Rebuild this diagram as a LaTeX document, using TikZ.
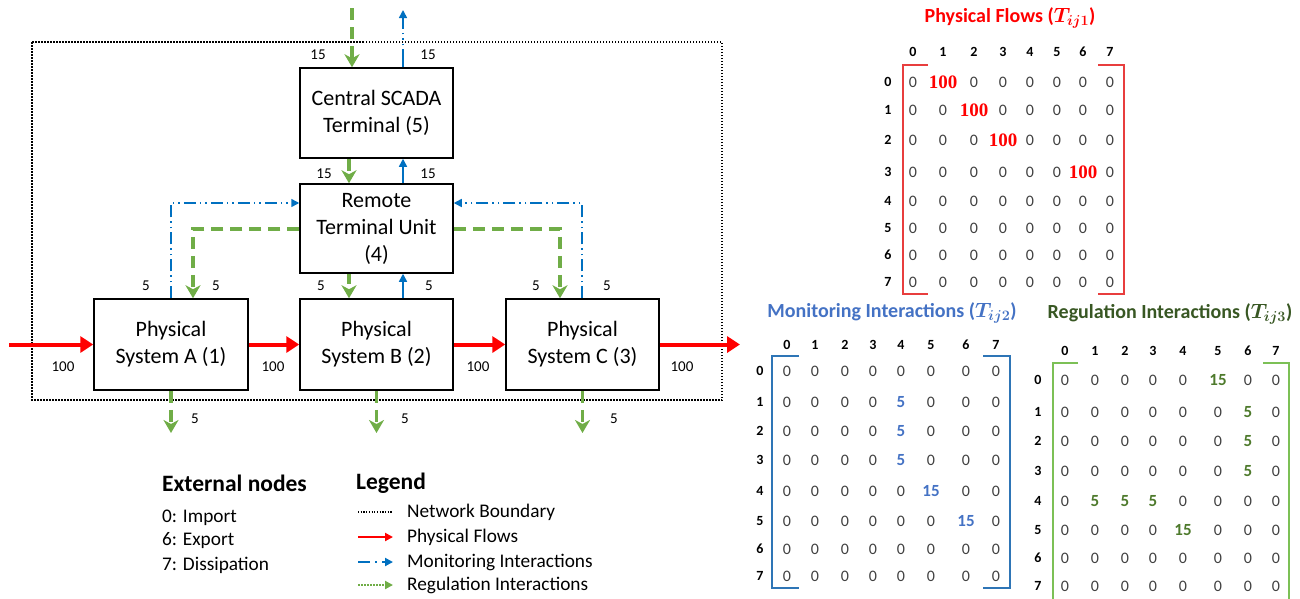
\documentclass[tikz,border=0pt]{standalone}
\usepackage{fontspec}
\setmainfont{Carlito}
\newfontfamily\serifnum{Liberation Serif}
\usetikzlibrary{arrows.meta}
\definecolor{cred}{HTML}{FF0000}
\definecolor{cblue}{HTML}{0070C0}
\definecolor{cgreen}{HTML}{70AD47}
\definecolor{tblue}{HTML}{4472C4}
\definecolor{tgreen}{HTML}{385723}
\definecolor{bblue}{HTML}{2E75B6}
\definecolor{bred}{HTML}{E83E3E}
\definecolor{bgreen}{HTML}{7CC056}
\definecolor{sgreen}{HTML}{4E7A2C}
\newcommand\mymat[7]{%
  \foreach \j in {0,...,7} {\pgfmathsetmacro\xx{{#2}[\j]}\node[hdr] (#1h\j) at (\xx,#4) {\j};}
  \foreach \i in {0,...,7} {\pgfmathsetmacro\yy{{#3}[\i]}\node[hdr] (#1r\i) at (#5,\yy) {\i};}
  \foreach \row [count=\i from 0] in {#7} {
    \foreach \v [count=\j from 0] in \row {
      \pgfmathsetmacro\xx{{#2}[\j]}\pgfmathsetmacro\yy{{#3}[\i]}
      \ifnum\v=0 \node[ent] (#1-\i-\j) at (\xx,\yy) {0};\else\node[#6] (#1-\i-\j) at (\xx,\yy) {\v};\fi
    }
  }
}
\begin{document}
\begin{tikzpicture}[x=1pt,y=-1pt,
  box/.style={draw, line width=1.5pt, align=center, font=\fontsize{22}{27}\selectfont, inner sep=0pt},
  lab/.style={font=\fontsize{15}{18}\selectfont, inner sep=0pt},
  phys/.style={draw=cred, line width=4pt, -{Triangle[length=13pt,width=16pt]}},
  reg/.style={draw=cgreen, line width=3.5pt, dash pattern=on 12pt off 7pt, -{Stealth[length=13pt,width=15pt,inset=4pt]}},
  mon/.style={draw=cblue, line width=1.5pt, dash pattern=on 12pt off 4pt on 1.5pt off 4pt on 1.5pt off 4pt, -{Triangle[length=8pt,width=8pt]}},
  monsolid/.style={draw=cblue, line width=1.5pt, -{Triangle[length=8pt,width=8pt]}},
  hdr/.style={font=\fontsize{14}{16}\bfseries\selectfont, inner sep=0pt},
  ent/.style={font=\fontsize{16}{17}\selectfont, text=black!75, inner sep=0pt},
  pbig/.style={font=\fontsize{19}{20}\serifnum\bfseries\selectfont, text=cred, inner sep=0pt},
  mbig/.style={font=\fontsize{17}{18}\bfseries\selectfont, text=tblue, inner sep=0pt},
  gbig/.style={font=\fontsize{17}{18}\bfseries\selectfont, text=sgreen, inner sep=0pt},
  ttl/.style={font=\fontsize{20}{22}\bfseries\selectfont, inner sep=0pt},
  leg/.style={font=\fontsize{19.3}{21}\selectfont, anchor=west, inner sep=0pt},
  legh/.style={font=\fontsize{23.5}{25}\bfseries\selectfont, anchor=west, inner sep=0pt}]
\useasboundingbox (0,0) rectangle (1300,598);
% boundary
\draw[line width=1.5pt, dash pattern=on 1.5pt off 1.5pt] (32,42) rectangle (722,400);
% boxes
\node[box, minimum width=153pt, minimum height=90pt] (scada) at (376.5,113) {Central SCADA\\Terminal (5)};
\node[box, minimum width=153pt, minimum height=89pt] (rtu) at (376.5,228.5) {Remote\\Terminal Unit\\(4)};
\node[box, minimum width=154pt, minimum height=91pt] (psa) at (171,344.5) {Physical\\System A (1)};
\node[box, minimum width=153pt, minimum height=91pt] (psb) at (376.5,344.5) {Physical\\System B (2)};
\node[box, minimum width=153pt, minimum height=91pt] (psc) at (582.5,344.5) {Physical\\System C (3)};
% coordinates
\coordinate (imp) at (9,344.5);
\coordinate (exp) at (740,344.5);
\coordinate (gtop) at (352,8);
\coordinate (btop) at (403,10);
\coordinate (gx) at (349,0);
\coordinate (bx) at (403,0);
\coordinate (ga) at (193,229);
\coordinate (gc) at (560,229);
\coordinate (ba) at (171,203);
\coordinate (bc) at (582,203);
\coordinate (dA) at (171,433);
\coordinate (dB) at (376.5,433);
\coordinate (dC) at (582.5,433);
% physical flows
\draw[phys] (imp) -- (psa.west);
\draw[phys] (psa.east) -- (psb.west);
\draw[phys] (psb.east) -- (psc.west);
\draw[phys] (psc.east) -- (exp);
% regulation
\draw[reg] (gtop) -- (scada.north -| gtop);
\draw[reg] (scada.south -| gx) -- (rtu.north -| gx);
\draw[reg, dash pattern=on 10pt off 7pt] (rtu.south -| gx) -- (psb.north -| gx);
\draw[reg] (rtu.west |- ga) -- (ga) -- (psa.north -| ga);
\draw[reg] (rtu.east |- gc) -- (gc) -- (psc.north -| gc);
\draw[reg] (psa.south) -- (dA);
\draw[reg] (psb.south) -- (dB);
\draw[reg] (psc.south) -- (dC);
% monitoring
\draw[mon, dash pattern=on 18pt off 4pt on 1.5pt off 4pt on 1.5pt off 4pt on 1.5pt off 4pt] (scada.north -| btop) -- (btop);
\draw[monsolid] (rtu.north -| bx) -- (scada.south -| bx);
\draw[monsolid] (psb.north -| bx) -- (rtu.south -| bx);
\draw[mon] (psa.north -| ba) -- (ba) -- (rtu.west |- ba);
\draw[mon] (psc.north -| bc) -- (bc) -- (rtu.east |- bc);
% labels
\node[lab] (l1) at (318,55) {15};
\node[lab] (l2) at (428,55) {15};
\node[lab] (l3) at (324,174) {15};
\node[lab] (l4) at (428,174) {15};
\node[lab] (l5) at (146,286) {5};
\node[lab] (l6) at (216,286) {5};
\node[lab] (l7) at (321,286) {5};
\node[lab] (l8) at (429,286) {5};
\node[lab] (l9) at (536,286) {5};
\node[lab] (l10) at (607,286) {5};
\node[lab] (l11) at (63,367) {100};
\node[lab] (l12) at (273,367) {100};
\node[lab] (l13) at (478,367) {100};
\node[lab] (l14) at (682,367) {100};
\node[lab] (l15) at (195,419) {5};
\node[lab] (l16) at (405,419) {5};
\node[lab] (l17) at (614,419) {5};
% external nodes
\node[legh] (exth) at (162,483) {External nodes};
\node[leg] (e0) at (162,518) {0: Import};
\node[leg] (e6) at (162,541) {6: Export};
\node[leg] (e7) at (162,565) {7: Dissipation};
% legend
\node[legh] (legh) at (356,483) {Legend};
\coordinate (lg1a) at (358,512); \coordinate (lg1b) at (393,512);
\coordinate (lg2a) at (358,537); \coordinate (lg2b) at (393,537);
\coordinate (lg3a) at (358,562); \coordinate (lg3b) at (393,562);
\coordinate (lg4a) at (358,585); \coordinate (lg4b) at (393,585);
\draw[line width=1.2pt, dash pattern=on 1.2pt off 1.5pt] (lg1a) -- (lg1b);
\draw[draw=cred, line width=2pt, -{Triangle[length=8pt,width=8pt]}] (lg2a) -- (lg2b);
\draw[draw=cblue, line width=2pt, dash pattern=on 12pt off 5pt on 2pt off 5pt, -{Triangle[length=8pt,width=8pt]}] (lg3a) -- (lg3b);
\draw[draw=cgreen, line width=2pt, dash pattern=on 1.5pt off 1.5pt, -{Triangle[length=8pt,width=8pt]}] (lg4a) -- (lg4b);
\node[leg] (t1) at (407,512) {Network Boundary};
\node[leg] (t2) at (407,537) {Physical Flows};
\node[leg] (t3) at (407,562) {Monitoring Interactions};
\node[leg] (t4) at (407,585) {Regulation Interactions};
% matrix titles
\node[ttl, text=cred] (tp) at (1010,18) {Physical Flows ({\boldmath$T_{ij1}$})};
\node[ttl, text=tblue] (tm) at (892,313) {Monitoring Interactions ({\boldmath$T_{ij2}$})};
\node[ttl, text=tgreen] (tr) at (1170,314) {Regulation Interactions ({\boldmath$T_{ij3}$})};
% brackets
\draw[bred, line width=1.5pt] (928,65) -- (903,65) -- (903,294) -- (928,294);
\draw[bred, line width=1.5pt] (1098,65) -- (1124,65) -- (1124,294) -- (1098,294);
\draw[bblue, line width=1.5pt] (799,356) -- (772,356) -- (772,588) -- (799,588);
\draw[bblue, line width=1.5pt] (983,356) -- (1010,356) -- (1010,588) -- (983,588);
\draw[bgreen, line width=1.5pt] (1078,363) -- (1053,363) -- (1053,600);
\draw[bgreen, line width=1.5pt] (1263,363) -- (1289,363) -- (1289,600);
% matrices
\mymat{p}{913,943,974,1003,1030,1057,1083,1110}{82,110,140,172,201,228,255,282}{52}{888}{pbig}{{0,100,0,0,0,0,0,0},{0,0,100,0,0,0,0,0},{0,0,0,100,0,0,0,0},{0,0,0,0,0,0,100,0},{0,0,0,0,0,0,0,0},{0,0,0,0,0,0,0,0},{0,0,0,0,0,0,0,0},{0,0,0,0,0,0,0,0}}
\mymat{m}{787,815,845,873,901,931,966,996}{371,402,431,460,491,521,549,576}{345}{760}{mbig}{{0,0,0,0,0,0,0,0},{0,0,0,0,5,0,0,0},{0,0,0,0,5,0,0,0},{0,0,0,0,5,0,0,0},{0,0,0,0,0,15,0,0},{0,0,0,0,0,0,15,0},{0,0,0,0,0,0,0,0},{0,0,0,0,0,0,0,0}}
\mymat{g}{1065,1095,1125,1153,1183,1218,1248,1276}{380,412,441,471,501,530,558,586}{351}{1038}{gbig}{{0,0,0,0,0,15,0,0},{0,0,0,0,0,0,5,0},{0,0,0,0,0,0,5,0},{0,0,0,0,0,0,5,0},{0,5,5,5,0,0,0,0},{0,0,0,0,15,0,0,0},{0,0,0,0,0,0,0,0},{0,0,0,0,0,0,0,0}}
\end{tikzpicture}
\end{document}
